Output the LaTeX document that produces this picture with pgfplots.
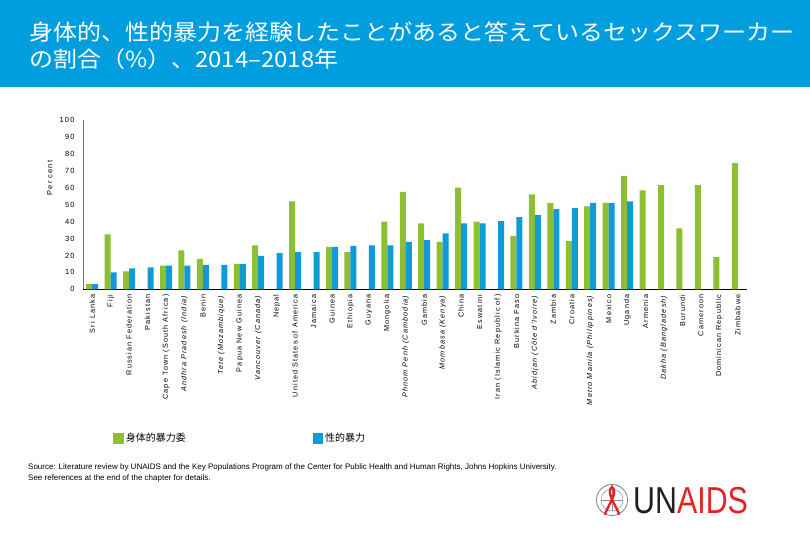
\documentclass[border=0pt]{standalone}
\usepackage{fontspec}
\setmainfont{Liberation Sans}
\newfontfamily\cjk{Noto Sans CJK JP}
\newfontfamily\lbl{Liberation Sans}[LetterSpace=15]
\usepackage{pgfplots}
\pgfplotsset{compat=1.18}
\definecolor{band}{RGB}{0,158,222}
\definecolor{gbar}{RGB}{141,190,52}
\definecolor{bbar}{RGB}{16,155,215}
\definecolor{ured}{RGB}{226,35,38}
\definecolor{udark}{RGB}{35,31,32}
\begin{document}
\begin{tikzpicture}[x=1pt,y=1pt]
\path[use as bounding box] (0,0) rectangle (810,540);
\fill[white] (0,0) rectangle (810,540);
\fill[band] (0,453) rectangle (810,540);
\node[anchor=base west, inner sep=0pt, text=white] at (29,499) {\scalebox{1.09}[1]{\cjk\fontsize{22}{26}\selectfont 身体的、性的暴力を経験したことがあると答えているセックスワーカー}};
\node[anchor=base west, inner sep=0pt, text=white] at (29,472) {\scalebox{1.09}[1]{\cjk\fontsize{22}{26}\selectfont の割合（\%）、2014–2018年}};

\begin{axis}[
  at={(83pt,250.7pt)}, anchor=south west,
  scale only axis, width=664pt, height=169.3pt,
  xmin=-0.5, xmax=35.5, ymin=0, ymax=100,
  axis lines=left, axis line style={-},
  x axis line style={black, line width=1pt},
  y axis line style={black!55, line width=0.6pt},
  ybar=0pt, bar width=6pt,
  major tick length=0pt,
  ytick={0,10,...,100},
  xtick={0,...,35},
  /pgf/number format/assume math mode=true,
  yticklabel style={font=\lbl\fontsize{7.5}{9}\selectfont, xshift=-5pt},
  xticklabel style={rotate=90, anchor=east, font=\lbl\fontsize{7.3}{8}\selectfont, inner xsep=5pt, inner ysep=0pt},
  xticklabels={Sri Lanka, Fiji, Russian Federation, Pakistan, Cape Town (South Africa), {\textit{Andhra Pradesh (India)}}, Benin, {\textit{Tete (Mozambique)}}, Papua New Guinea, {\textit{Vancouver (Canada)}}, Nepal, United States of America, Jamaica, Guinea, Ethiopia, Guyana, Mongolia, {\textit{Phnom Penh (Cambodia)}}, Gambia, {\textit{Mombasa (Kenya)}}, China, Eswatini, Iran (Islamic Republic of), Burkina Faso, {\textit{Abidjan (Côte d'Ivoire)}}, Zambia, Croatia, {\textit{Metro Manila (Philippines)}}, Mexico, Uganda, Armenia, {\textit{Dakha (Bangladesh)}}, Burundi, Cameroon, Dominican Republic, Zimbabwe},
  ylabel={Per cent},
  ylabel style={font=\lbl\fontsize{7.5}{9}\selectfont, at={(axis description cs:-0.05,0.657)}, anchor=center},
  legend columns=2,
  legend image code/.code={\fill[#1] (0pt,-5.2pt) rectangle (10.4pt,5.2pt);},
  legend style={draw=none, fill=none, at={(axis description cs:0.0455,-0.881)}, anchor=west,
    font=\cjk\fontsize{10}{12}\selectfont, inner sep=0pt,
    nodes={inner xsep=2pt, inner ysep=0pt},
    /tikz/every even column/.append style={column sep=125pt}},
]
\addplot[fill=gbar, draw=none] coordinates {
(0,3) (1,32.5) (2,10.6) (4,14) (5,23) (6,18) (8,15) (9,26) (11,52) (13,25) (14,22)
(16,40) (17,57.5) (18,39) (19,28) (20,60) (21,40) (23,31.5) (24,56) (25,51) (26,28.5)
(27,49) (28,51) (29,67) (30,58.5) (31,61.5) (32,36) (33,61.5) (34,19) (35,74.5)};
\addplot[fill=bbar, draw=none] coordinates {
(0,3) (1,10) (2,12.4) (3,13) (4,14) (5,14) (6,14.4) (7,14.4) (8,15) (9,19.7) (10,21.3)
(11,22) (12,22) (13,25) (14,25.6) (15,26) (16,26) (17,28) (18,29) (19,33) (20,39)
(21,39) (22,40.3) (23,42.6) (24,43.8) (25,47.4) (26,48) (27,51) (28,51) (29,52)};
\legend{身体的暴力委, 性的暴力}
\end{axis}

\node[anchor=base west, inner sep=0pt, font=\fontsize{8}{9}\selectfont] at (28,70) {Source: Literature review by UNAIDS and the Key Populations Program of the Center for Public Health and Human Rights, Johns Hopkins University.};
\node[anchor=base west, inner sep=0pt, font=\fontsize{8}{9}\selectfont] at (28,59) {See references at the end of the chapter for details.};

% logo
\draw[black!55, line width=0.7pt] (612,40) circle (15.5);
\draw[black!45, line width=0.5pt] (612,40) circle (11);
\draw[black!45, line width=0.4pt] (601,40) -- (623,40) (612,29) -- (612,51);
\draw[ured, line width=2.4pt, line cap=round] (605,26) .. controls (610,38) and (618,48) .. (612,53) .. controls (606,48) and (614,38) .. (619,26);
\node[anchor=base west, inner sep=0pt] at (633,26) {\scalebox{0.81}[1]{\fontsize{37.5}{40}\selectfont\textcolor{udark}{UN}\textcolor{ured}{AIDS}}};
\end{tikzpicture}
\end{document}
